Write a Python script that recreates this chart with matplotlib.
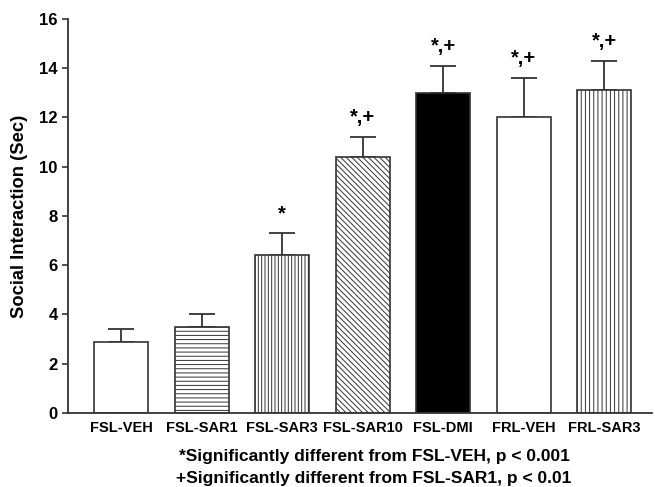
"""Social interaction bar chart with significance marks"""

import matplotlib
matplotlib.use("Agg")
import matplotlib.pyplot as plt
import numpy as np

plt.rcParams['font.family'] = ['Liberation Sans', 'DejaVu Sans']
plt.rcParams['font.weight'] = 'bold'
plt.rcParams['hatch.linewidth'] = 0.7

groups = ['FSL-VEH', 'FSL-SAR1', 'FSL-SAR3', 'FSL-SAR10', 'FSL-DMI', 'FRL-VEH', 'FRL-SAR3']
means = [2.9, 3.5, 6.4, 10.4, 13.0, 12.0, 13.1]
sem = [0.5, 0.5, 0.9, 0.8, 1.1, 1.6, 1.2]
marks = ['', '', '*', '*,+', '*,+', '*,+', '*,+']
hatches = ['', '----', '|||||', '\\\\\\\\\\\\', '', '', '||||']
fills = ['white', 'white', 'white', 'white', 'black', 'white', 'white']
footnotes = ['*Significantly different from FSL-VEH, p < 0.001',
             '+Significantly different from FSL-SAR1, p < 0.01']

fig = plt.figure(figsize=(6.55, 4.87), dpi=100)
ax = fig.add_axes([0.104, 0.152, 0.891, 0.809])

x = np.arange(len(groups))
bars = ax.bar(x, means, width=0.67, color=fills, edgecolor='#333333', linewidth=1.2,
              hatch=hatches, zorder=2)
ax.errorbar(x, means, yerr=[np.zeros(len(sem)), sem], fmt='none', ecolor='#333333',
            elinewidth=1.3, capsize=9.5, capthick=1.3, zorder=1)

for xi, m, s, lab in zip(x, means, sem, marks):
    if not lab:
        continue
    ax.annotate(lab, (xi, m + s), xytext=(0, 7), textcoords='offset points',
                ha='center', va='bottom', fontsize=14.5, fontweight='bold')

ax.set_xlim(-0.66, 6.59)
ax.set_ylim(0, 16)
ax.set_yticks(np.arange(0, 17, 2))
ax.set_xticks(x)
ax.set_xticklabels(groups, fontsize=10.5, fontweight='bold')
ax.tick_params(axis='x', length=0, pad=6)
ax.tick_params(axis='y', direction='out', length=4, width=1.2, labelsize=12, color='#333333')
ax.spines['top'].set_visible(False)
ax.spines['right'].set_visible(False)
for sp in ('left', 'bottom'):
    ax.spines[sp].set_linewidth(1.3)
    ax.spines[sp].set_color('#333333')
ax.set_ylabel('Social Interaction (Sec)', fontsize=13.2, fontweight='bold')
ax.yaxis.set_label_coords(-0.068, 0.50)

fig.text(0.571, 0.062, footnotes[0], ha='center', va='center', fontsize=12.5, fontweight='bold')
fig.text(0.571, 0.018, footnotes[1], ha='center', va='center', fontsize=12.5, fontweight='bold')

fig.savefig('out.png', dpi=100)
